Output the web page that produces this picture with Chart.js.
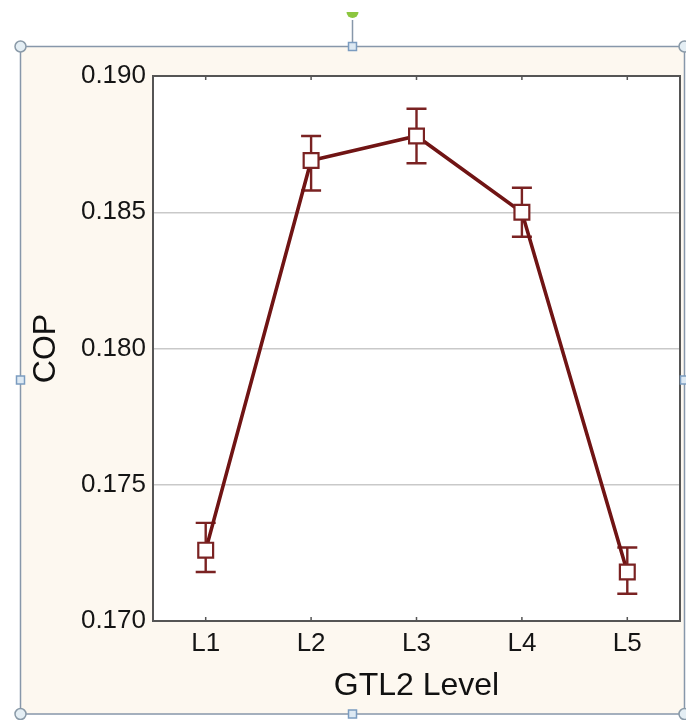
<!DOCTYPE html>
<html>
<head>
<meta charset="utf-8">
<script src="https://cdn.jsdelivr.net/npm/chart.js@4/dist/chart.umd.min.js"></script>
<style>
  body { margin: 0; background: #fff; }
  #wrap { width: 686px; height: 720px; }
</style>
</head>
<body>
<div id="wrap"><canvas id="copChart" width="686" height="720"></canvas></div>
<script>
'use strict';

const levels = ['L1', 'L2', 'L3', 'L4', 'L5'];
const copMean = [0.1726, 0.1869, 0.1878, 0.1850, 0.1718];
const copLow = [0.1718, 0.1858, 0.1868, 0.1841, 0.1710];
const copHigh = [0.1736, 0.1878, 0.1888, 0.1859, 0.1727];
const yTicks = [0.170, 0.175, 0.180, 0.185, 0.190];

const lineColor = '#701414';
const barColor = '#7a2222';

// background, selection frame and handles (PowerPoint style)
const framePlugin = {
    id: 'frame',
    beforeDraw: function (chart) {
        const ctx = chart.ctx;
        const a = chart.chartArea;
        ctx.save();
        ctx.fillStyle = '#ffffff';
        ctx.fillRect(0, 0, chart.width, chart.height);
        ctx.fillStyle = '#fdf8f0';
        ctx.fillRect(20, 46, 665, 668);
        ctx.fillStyle = '#ffffff';
        ctx.fillRect(a.left, a.top, a.right - a.left, a.bottom - a.top);
        ctx.restore();
    },
    afterDraw: function (chart) {
        const ctx = chart.ctx;
        const a = chart.chartArea;
        ctx.save();
        // plot border
        ctx.strokeStyle = '#555555';
        ctx.lineWidth = 2;
        ctx.strokeRect(a.left, a.top, a.right - a.left, a.bottom - a.top);
        // small inward ticks at category positions
        const xs = chart.scales.x;
        ctx.lineWidth = 1.5;
        levels.forEach(function (l, i) {
            const px = xs.getPixelForValue(i);
            ctx.beginPath();
            ctx.moveTo(px, a.bottom);
            ctx.lineTo(px, a.bottom - 4);
            ctx.moveTo(px, a.top);
            ctx.lineTo(px, a.top + 4);
            ctx.stroke();
        });
        // selection frame
        ctx.strokeStyle = '#8797aa';
        ctx.lineWidth = 1.5;
        ctx.strokeRect(20.5, 46.5, 664, 667.5);
        // rotation handle
        ctx.beginPath();
        ctx.moveTo(352.5, 20);
        ctx.lineTo(352.5, 46);
        ctx.stroke();
        ctx.fillStyle = '#8cc63f';
        ctx.beginPath();
        ctx.arc(352.5, 12, 6, 0, Math.PI);
        ctx.fill();
        // corner circles
        [[20.5, 46.5], [684.5, 46.5], [20.5, 714], [684.5, 714]].forEach(function (p) {
            ctx.beginPath();
            ctx.arc(p[0], p[1], 5.5, 0, Math.PI * 2);
            ctx.fillStyle = '#e4eef4';
            ctx.fill();
            ctx.strokeStyle = '#8a9aa8';
            ctx.stroke();
        });
        // side squares
        [[352.5, 46.5], [20.5, 380], [684.5, 380], [352.5, 714]].forEach(function (p) {
            ctx.fillStyle = '#dde9f3';
            ctx.fillRect(p[0] - 4, p[1] - 4, 8, 8);
            ctx.strokeStyle = '#7b9cc0';
            ctx.strokeRect(p[0] - 4, p[1] - 4, 8, 8);
        });
        ctx.restore();
    }
};

// error bars drawn under the markers
const errorBarPlugin = {
    id: 'errorBars',
    beforeDatasetsDraw: function (chart) {
        const ctx = chart.ctx;
        const xs = chart.scales.x;
        const ys = chart.scales.y;
        ctx.save();
        ctx.strokeStyle = barColor;
        ctx.lineWidth = 2.4;
        copMean.forEach(function (v, i) {
            const px = xs.getPixelForValue(i);
            const yHi = ys.getPixelForValue(copHigh[i]);
            const yLo = ys.getPixelForValue(copLow[i]);
            ctx.beginPath();
            ctx.moveTo(px, yHi);
            ctx.lineTo(px, yLo);
            ctx.moveTo(px - 10, yHi);
            ctx.lineTo(px + 10, yHi);
            ctx.moveTo(px - 10, yLo);
            ctx.lineTo(px + 10, yLo);
            ctx.stroke();
        });
        ctx.restore();
    }
};

new Chart(document.getElementById('copChart'), {
    type: 'line',
    data: {
        labels: levels,
        datasets: [{
            data: copMean,
            borderColor: lineColor,
            borderWidth: 3.6,
            pointStyle: 'rect',
            pointRadius: 10.5,
            pointBorderWidth: 2.2,
            pointBorderColor: barColor,
            pointBackgroundColor: '#ffffff',
            tension: 0,
            fill: false
        }]
    },
    options: {
        responsive: false,
        devicePixelRatio: 1,
        animation: false,
        layout: {
            autoPadding: false,
            padding: { left: 0, top: 76, right: 6, bottom: 0 }
        },
        plugins: {
            legend: { display: false },
            tooltip: { enabled: false }
        },
        scales: {
            x: {
                offset: true,
                afterFit: function (scale) { scale.height = 99; },
                grid: { display: false, drawTicks: false },
                border: { display: false },
                ticks: {
                    color: '#151515',
                    padding: 7,
                    font: { family: 'Liberation Sans, Arial, sans-serif', size: 26 }
                },
                title: {
                    display: true,
                    text: 'GTL2 Level',
                    color: '#111',
                    padding: { top: 0, bottom: 15 },
                    font: { family: 'Liberation Sans, Arial, sans-serif', size: 32 }
                }
            },
            y: {
                min: yTicks[0],
                max: yTicks[yTicks.length - 1],
                afterFit: function (scale) { scale.width = 153; },
                afterBuildTicks: function (scale) {
                    scale.ticks = yTicks.map(function (v) { return { value: v }; });
                },
                grid: {
                    drawTicks: false,
                    lineWidth: 1.5,
                    color: function (c) {
                        const v = c.tick && c.tick.value;
                        if (v === yTicks[0] || v === yTicks[yTicks.length - 1]) return 'rgba(0,0,0,0)';
                        return '#c9c9c9';
                    }
                },
                border: { display: false },
                ticks: {
                    color: '#151515',
                    padding: 7,
                    font: { family: 'Liberation Sans, Arial, sans-serif', size: 26 },
                    callback: function (v) { return Number(v).toFixed(3); }
                },
                title: {
                    display: true,
                    text: 'COP',
                    color: '#111',
                    padding: { top: 27, bottom: 0 },
                    font: { family: 'Liberation Sans, Arial, sans-serif', size: 32 }
                }
            }
        }
    },
    plugins: [framePlugin, errorBarPlugin]
});
</script>
</body>
</html>
